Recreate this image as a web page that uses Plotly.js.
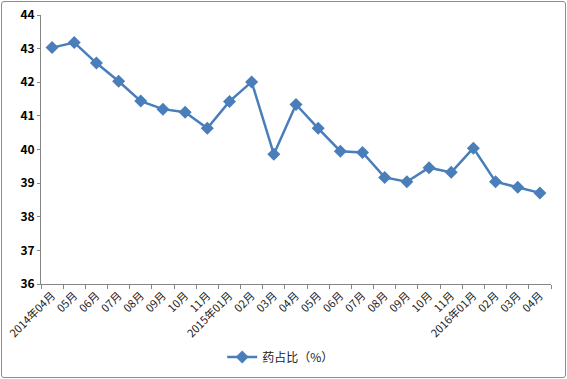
<!DOCTYPE html>
<html><head><meta charset="utf-8">
<script src="https://cdn.plot.ly/plotly-3.0.1.min.js"></script>
<style>
html,body{margin:0;padding:0;background:#fff;}
#wrap{position:relative;width:567px;height:379px;}
#chart{width:567px;height:379px;}
#frame{position:absolute;left:1px;top:1px;width:563px;height:375px;border:1px solid #8c8c8c;border-radius:3px;pointer-events:none;}
</style></head>
<body>
<div id="wrap"><div id="chart"></div><div id="frame"></div></div>
<script>
const months = ["2014-04","2014-05","2014-06","2014-07","2014-08","2014-09","2014-10","2014-11","2015-01","2015-02","2015-03","2015-04","2015-05","2015-06","2015-07","2015-08","2015-09","2015-10","2015-11","2016-01","2016-02","2016-03","2016-04"];
const tickLabels = ["2014年04月","05月","06月","07月","08月","09月","10月","11月","2015年01月","02月","03月","04月","05月","06月","07月","08月","09月","10月","11月","2016年01月","02月","03月","04月"];
const seriesName = "药占比（%）";
const values = [43.03,43.18,42.57,42.03,41.44,41.2,41.11,40.63,41.43,42.01,39.86,41.34,40.63,39.95,39.91,39.17,39.04,39.46,39.32,40.04,39.04,38.88,38.71];
const yTicks = [36,37,38,39,40,41,42,43,44];

Plotly.newPlot('chart', [{
  x: months, y: values, name: seriesName, type: 'scatter', mode: 'lines+markers',
  line: {color: '#4a7ebb', width: 2.5},
  marker: {symbol: 'diamond', size: 10, color: '#4a7ebb'}
}], {
  width: 567, height: 379,
  margin: {l: 41, r: 16, t: 15, b: 95, autoexpand: false},
  paper_bgcolor: '#fff', plot_bgcolor: '#fff',
  font: {family: '"Noto Sans CJK SC", "Noto Sans", sans-serif', size: 11, color: '#000'},
  showlegend: true,
  legend: {orientation: 'h', x: 0.47, xanchor: 'center', yref: 'container', y: 0.058, yanchor: 'middle', font: {size: 12, color: '#222'}},
  xaxis: {
    type: 'category', range: [-0.5, months.length - 0.5], automargin: false,
    tickmode: 'array', tickvals: months, ticktext: tickLabels,
    tickangle: -45, tickson: 'boundaries', ticks: 'outside', ticklen: 4, tickcolor: '#868686',
    showline: true, linecolor: '#868686', linewidth: 1, showgrid: false, zeroline: false,
    tickfont: {size: 11, color: '#222'}
  },
  yaxis: {
    range: [36, 44], tickvals: yTicks, automargin: false, showline: true, linecolor: '#868686', linewidth: 1,
    showgrid: false, zeroline: false, ticks: 'outside', ticklen: 3, tickcolor: '#868686',
    tickfont: {size: 12, weight: 'bold'}
  }
}, {staticPlot: true});
</script>
</body></html>
